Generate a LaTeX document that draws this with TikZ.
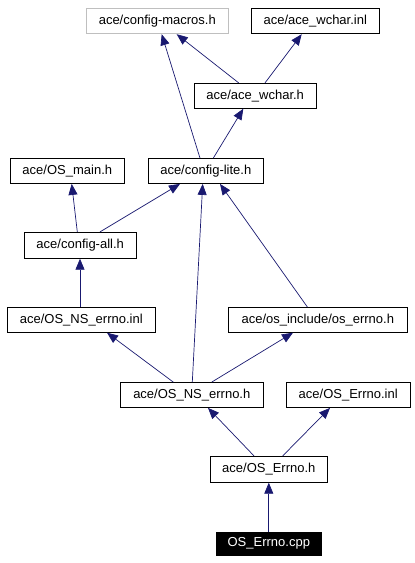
\documentclass[tikz,border=0pt]{standalone}
\usepackage{fontspec}
\setmainfont{Liberation Sans}
\usetikzlibrary{arrows.meta}
\definecolor{edgeblue}{HTML}{191970}
\definecolor{lightgray}{HTML}{BFBFBF}
\tikzset{
  filebox/.style={draw=black, line width=0.8pt, minimum height=25pt, inner sep=0pt,
    font=\fontsize{13}{15}\selectfont},
  graybox/.style={filebox, draw=lightgray},
  rootbox/.style={filebox, fill=black, text=white, draw=black},
  dep/.style={draw=edgeblue, line width=0.7pt, -{Triangle[length=11pt,width=9pt]}, shorten >=0pt}
}
\begin{document}
\begin{tikzpicture}[x=1pt,y=-1pt]
\useasboundingbox (0,0) rectangle (415,563);
\node[graybox, minimum width=142pt] (macros) at (157.3,21.3) {ace/config-macros.h};
\node[filebox, minimum width=128pt] (wcharinl) at (315.3,21.3) {ace/ace\_wchar.inl};
\node[filebox, minimum width=121.7pt] (wcharh) at (255.2,95.8) {ace/ace\_wchar.h};
\node[filebox, minimum width=114pt] (osmain) at (67.3,171) {ace/OS\_main.h};
\node[filebox, minimum width=115pt] (lite) at (205.8,171) {ace/config-lite.h};
\node[filebox, minimum width=112.3pt, minimum height=26pt] (all) at (80.2,245.3) {ace/config-all.h};
\node[filebox, minimum width=148pt] (nsinl) at (81.3,319.8) {ace/OS\_NS\_errno.inl};
\node[filebox, minimum width=179pt] (oserrno) at (317.8,319.8) {ace/os\_include/os\_errno.h};
\node[filebox, minimum width=143pt] (nsh) at (191.8,395) {ace/OS\_NS\_errno.h};
\node[filebox, minimum width=123.7pt] (errnoinl) at (348.2,395) {ace/OS\_Errno.inl};
\node[filebox, minimum width=117pt, minimum height=26pt] (errnoh) at (268.8,469.3) {ace/OS\_Errno.h};
\node[rootbox, minimum width=105.7pt, minimum height=23.7pt] (cpp) at (268.8,543.8) {OS\_Errno.cpp};

\draw[dep] (cpp.north) -- (errnoh.south);
\draw[dep] ([xshift=-14.8pt]errnoh.north) -- ([xshift=16.2pt]nsh.south);
\draw[dep] ([xshift=13.9pt]errnoh.north) -- ([xshift=-18.2pt]errnoinl.south);
\draw[dep] ([xshift=-18.5pt]nsh.north) -- ([xshift=25.7pt]nsinl.south);
\draw[dep] ([xshift=19.9pt]nsh.north) -- ([xshift=-24.8pt]oserrno.south);
\draw[dep] ([xshift=0.5pt]nsh.north) -- ([xshift=-3.1pt]lite.south);
\draw[dep] ([xshift=-10.5pt]oserrno.north) -- ([xshift=14.2pt]lite.south);
\draw[dep] ([xshift=-1.3pt]nsinl.north) -- ([xshift=-0.2pt]all.south);
\draw[dep] ([xshift=-2.9pt]all.north) -- ([xshift=4.4pt]osmain.south);
\draw[dep] ([xshift=19.8pt]all.north) -- ([xshift=-25.8pt]lite.south);
\draw[dep] ([xshift=-5.8pt]lite.north) -- ([xshift=4.4pt]macros.south);
\draw[dep] ([xshift=7.5pt]lite.north) -- ([xshift=-11.9pt]wcharh.south);
\draw[dep] ([xshift=-16.5pt]wcharh.north) -- ([xshift=19.4pt]macros.south);
\draw[dep] ([xshift=9.8pt]wcharh.north) -- ([xshift=-13.6pt]wcharinl.south);
\end{tikzpicture}
\end{document}
